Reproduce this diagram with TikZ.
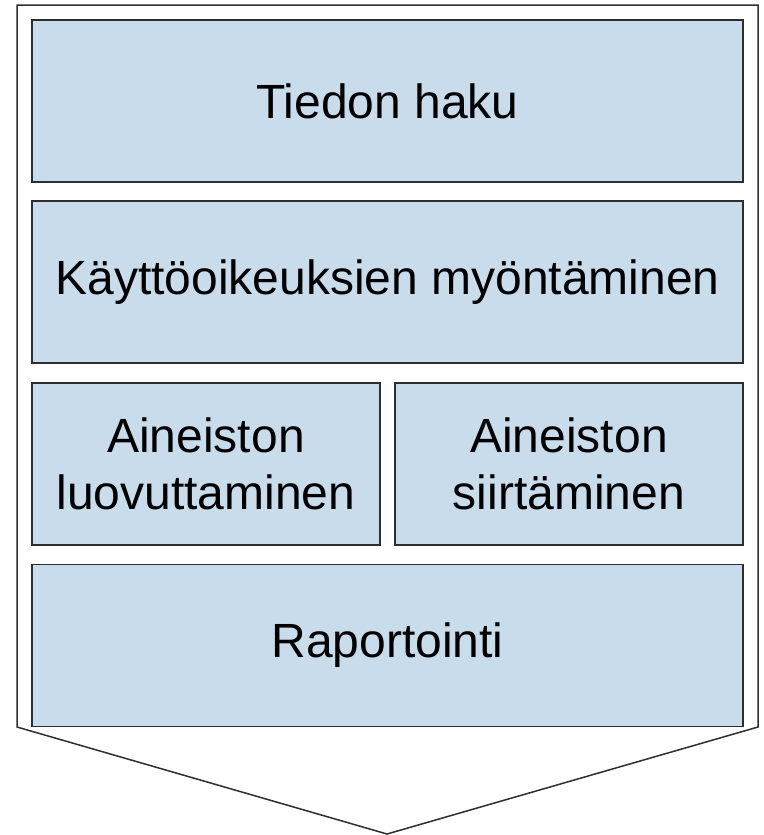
\documentclass[tikz,border=0pt]{standalone}
\usepackage{fontspec}
\setmainfont{Liberation Sans}
\definecolor{stagefill}{HTML}{C9DCEC}
\definecolor{stageline}{HTML}{2E2E2E}
\tikzset{
  stage/.style={draw=stageline, fill=stagefill, line width=1.4pt, inner sep=0pt,
    align=center, font=\fontsize{48}{57.6}\selectfont},
  wide/.style={stage, minimum width=711, minimum height=162},
  half/.style={stage, minimum width=348, minimum height=162}
}
\begin{document}
\begin{tikzpicture}[x=1pt,y=-1pt]
  \useasboundingbox (0,0) rectangle (763,835);
  \coordinate (TL) at (17,5);
  \coordinate (TR) at (758,5);
  \coordinate (R)  at (758,727);
  \coordinate (P)  at (387,834);
  \coordinate (L)  at (17,727);
  \draw[stageline, line width=1.5pt] (TL) -- (TR) -- (R) -- (P) -- (L) -- cycle;
  % stages
  \node[wide] (haku)     at (387.5,101)   {Tiedon haku};
  \node[wide] (oikeudet) at (387.5,282)   {Käyttöoikeuksien myöntäminen};
  \node[half] (luovutus) at (206,464)     {Aineiston\\luovuttaminen};
  \node[half] (siirto)   at (569,464)     {Aineiston\\siirtäminen};
  \node[wide] (raportti) at (387.5,645.5) {Raportointi};
\end{tikzpicture}
\end{document}
